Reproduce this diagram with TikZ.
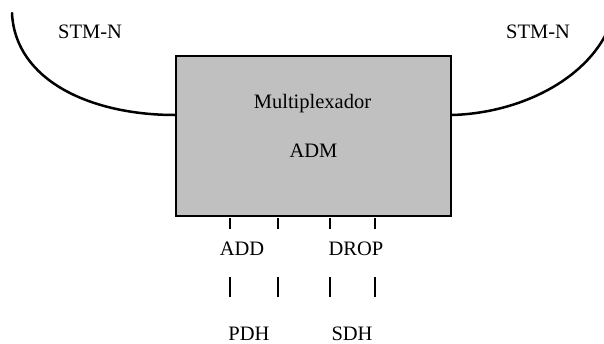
\documentclass[tikz,border=0pt]{standalone}
\usepackage{fontspec}
\setmainfont{Liberation Serif}
\begin{document}
\begin{tikzpicture}[x=1pt,y=-1pt,
  lbl/.style={font=\fontsize{20.5}{24}\selectfont, inner sep=0pt, anchor=base},
  muxbox/.style={draw=black, line width=2pt, fill=boxgray, minimum width=275pt, minimum height=160pt, inner sep=0pt},
  fibre/.style={line width=2.5pt, line cap=round},
  tick/.style={line width=1.3pt}]
\definecolor{boxgray}{RGB}{192,192,192}
\useasboundingbox (0,0) rectangle (604,343);
\clip (0,0) rectangle (604,343);

% add/drop multiplexer
\node[muxbox] (adm) at (313.5,136) {};
\node[lbl] (mux) at (312.5,108) {Multiplexador};
\node[lbl] (admtxt) at (313.5,157) {ADM};

% STM-N line side connections
\coordinate (lend) at (12,13);
\coordinate (rend) at (608,30);
\coordinate (lin) at (adm.west |- 0,115);
\coordinate (rin) at (adm.east |- 0,115);
\draw[fibre] (lend) .. controls (15,80) and (90,115) .. (lin);
\draw[fibre] (rin) .. controls (520,113) and (585,80) .. (rend);
\node[lbl] (stml) at (90,38) {STM-N};
\node[lbl] (stmr) at (538,38) {STM-N};

% tributary ports
\foreach \i/\x in {1/230,2/278,3/330,4/375}{
  \coordinate (ta\i) at (\x,218);
  \coordinate (tb\i) at (\x,229);
  \coordinate (tc\i) at (\x,277);
  \coordinate (td\i) at (\x,297);
  \draw[tick] (ta\i) -- (tb\i);
  \draw[tick] (tc\i) -- (td\i);
}
\node[lbl] (add) at (242,255) {ADD};
\node[lbl] (drop) at (356,255) {DROP};
\node[lbl] (pdh) at (249,340) {PDH};
\node[lbl] (sdh) at (352,340) {SDH};
\end{tikzpicture}
\end{document}
